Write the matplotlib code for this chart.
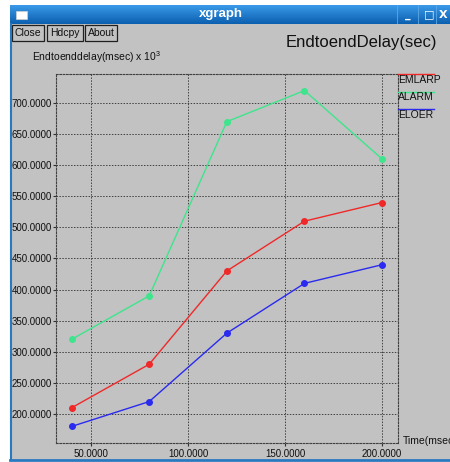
import numpy as np
import matplotlib.pyplot as plt
from matplotlib.patches import Rectangle
from matplotlib.lines import Line2D
from matplotlib.colors import LinearSegmentedColormap

plt.rcParams['font.family'] = ['Liberation Sans', 'DejaVu Sans']

# data
time_ms = [40, 80, 120, 160, 200]
emlarp = [210, 280, 430, 510, 540]
alarm = [320, 390, 670, 720, 610]
eloer = [180, 220, 330, 410, 440]
series_names = ['EMLARP', 'ALARM', 'ELOER']
series_colors = ['#f02828', '#3ee58c', '#2a2af0']
xticks = [50, 100, 150, 200]
yticks = [200, 250, 300, 350, 400, 450, 500, 550, 600, 650, 700]

W, H = 450, 462
bg = '#c2c2c2'
fig = plt.figure(figsize=(W / 100, H / 100), dpi=100, facecolor='white')


def fx(px):
    return px / W


def fy(py):
    return 1 - py / H


# window body
fig.patches.append(Rectangle((fx(10), fy(460)), fx(440), 436 / H,
                             transform=fig.transFigure, facecolor=bg,
                             edgecolor='none', zorder=-10))
# left / bottom blue border
fig.lines.append(Line2D([fx(10.5), fx(10.5)], [fy(24), fy(460)],
                        transform=fig.transFigure, color='#2a78c0', lw=1.5))
fig.lines.append(Line2D([fx(10), fx(450)], [fy(460), fy(460)],
                        transform=fig.transFigure, color='#2a78c0', lw=2))

# title bar with gradient
tb = fig.add_axes([fx(10), fy(24), fx(440), 19 / H])
grad = np.linspace(0, 1, 50).reshape(-1, 1)
tb.imshow(grad, aspect='auto',
          cmap=LinearSegmentedColormap.from_list('tb', ['#3a9ae8', '#0c5fb0']),
          extent=[0, 1, 0, 1], origin='upper')
tb.set_xlim(0, 1)
tb.set_ylim(0, 1)
tb.set_axis_off()
tb.text(0.48, 0.5, 'xgraph', color='white', fontweight='bold', fontsize=9.5,
        ha='center', va='center', transform=tb.transAxes)
tb.add_patch(Rectangle((0.013, 0.28), 0.025, 0.42, transform=tb.transAxes,
                       facecolor='white', edgecolor='#d0d0d0', lw=0.5))
for xc, s in [(0.903, '_'), (0.952, '\u25a1'), (0.985, 'X')]:
    tb.text(xc, 0.5, s, color='white', fontweight='bold', fontsize=8,
            ha='center', va='center', transform=tb.transAxes,
            family=['DejaVu Sans'])
for xs in [0.88, 0.928, 0.968]:
    tb.axvline(xs, color='#5aa8e8', lw=0.6)

# buttons
for label, x0, x1 in [('Close', 12, 44), ('Hdcpy', 47, 83), ('About', 85, 117)]:
    fig.patches.append(Rectangle((fx(x0), fy(41)), fx(x1 - x0), 16 / H,
                                 transform=fig.transFigure, facecolor=bg,
                                 edgecolor='#202020', lw=0.9))
    fig.text(fx((x0 + x1) / 2), fy(33), label, fontsize=7.5, ha='center',
             va='center', color='#101010')

fig.text(fx(437), fy(42), 'EndtoendDelay(sec)', fontsize=12, ha='right',
         va='center', color='#101010')
fig.text(fx(32), fy(57), r'Endtoenddelay(msec) x 10$^{\mathregular{3}}$',
         fontsize=7.5, ha='left', va='center', color='#101010')

# plot area
ax = fig.add_axes([fx(56), fy(443), fx(342), 369 / H])
ax.set_facecolor(bg)
for ys, name, col in zip([emlarp, alarm, eloer], series_names, series_colors):
    ax.plot(time_ms, ys, color=col, lw=1, marker='o', markersize=4,
            label=name, clip_on=False, zorder=3)

ax.set_xlim(31.96, 208.2)
ax.set_ylim(153.4, 746.6)
ax.set_xticks(xticks)
ax.set_yticks(yticks)
ax.set_xticklabels([f'{v:.4f}' for v in xticks])
ax.set_yticklabels([f'{v:.4f}' for v in yticks])
ax.tick_params(length=2, width=0.8, color='#303030', labelsize=7,
               labelcolor='#101010', pad=1)
ax.tick_params(axis='x', pad=2)
ax.grid(True, color='#404040', lw=0.7, linestyle=(0, (1.5, 1.5)))
for sp in ax.spines.values():
    sp.set_color('#404040')
    sp.set_linewidth(0.8)
    sp.set_linestyle((0, (1.5, 1.5)))

# legend drawn xgraph style: colored bar above each name
for i, (name, col) in enumerate(zip(series_names, series_colors)):
    ytop = 74 + i * 17.5
    fig.lines.append(Line2D([fx(398), fx(434)], [fy(ytop), fy(ytop)],
                            transform=fig.transFigure, color=col, lw=1))
    fig.text(fx(398), fy(ytop + 6), name, fontsize=7.5, ha='left',
             va='center', color='#101010')

fig.text(fx(403), fy(441), 'Time(msec)', fontsize=7.5, ha='left',
         va='center', color='#101010')

fig.savefig('out.png', dpi=100, facecolor='white')
